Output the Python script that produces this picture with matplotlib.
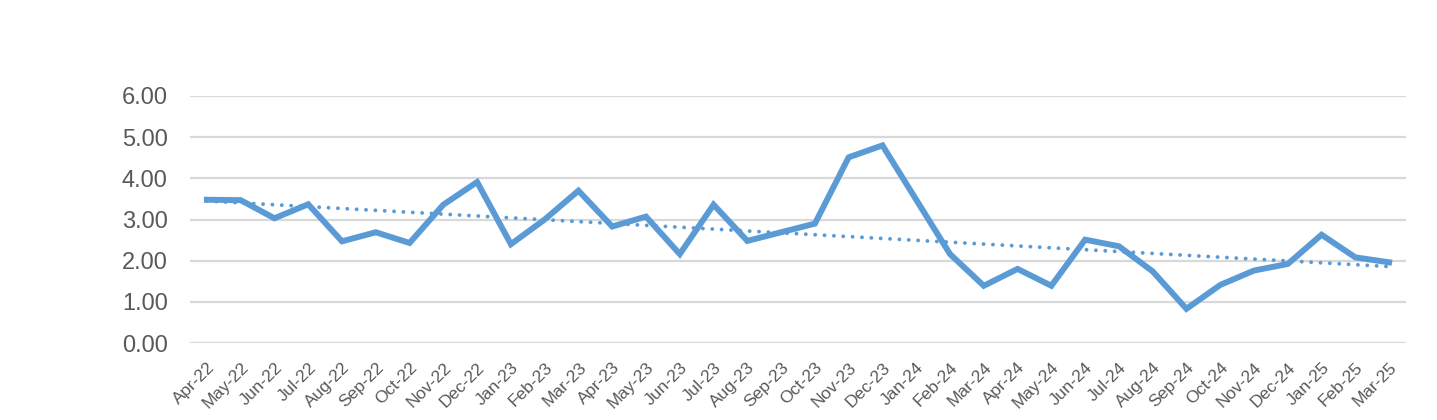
import numpy as np
import matplotlib.pyplot as plt

# --- DADOS ---
meses = ['Apr-22', 'May-22', 'Jun-22', 'Jul-22', 'Aug-22', 'Sep-22', 'Oct-22', 'Nov-22',
         'Dec-22', 'Jan-23', 'Feb-23', 'Mar-23', 'Apr-23', 'May-23', 'Jun-23', 'Jul-23',
         'Aug-23', 'Sep-23', 'Oct-23', 'Nov-23', 'Dec-23', 'Jan-24', 'Feb-24', 'Mar-24',
         'Apr-24', 'May-24', 'Jun-24', 'Jul-24', 'Aug-24', 'Sep-24', 'Oct-24', 'Nov-24',
         'Dec-24', 'Jan-25', 'Feb-25', 'Mar-25']
valores = [3.48, 3.47, 3.03, 3.37, 2.47, 2.69, 2.43, 3.36,
           3.91, 2.40, 3.00, 3.70, 2.83, 3.07, 2.16, 3.36,
           2.48, 2.69, 2.90, 4.51, 4.80, 3.48, 2.16, 1.39,
           1.80, 1.39, 2.51, 2.35, 1.74, 0.83, 1.41, 1.76,
           1.92, 2.63, 2.08, 1.96]
y_ticks = [0, 1, 2, 3, 4, 5, 6]

COR_LINHA = '#5B9BD5'
COR_TEXTO = '#595959'
COR_GRADE = '#D9D9D9'

plt.rcParams['font.family'] = ['Liberation Sans', 'DejaVu Sans']

fig = plt.figure(figsize=(14.37, 4.2), dpi=100)
ax = fig.add_axes([190 / 1437, 77 / 420, 1216 / 1437, 247 / 420])

x = np.arange(len(meses))
ax.plot(x, valores, color=COR_LINHA, linewidth=4.3, solid_joinstyle='miter', zorder=3)

# linha de tendência linear
coef = np.polyfit(x, valores, 1)
ax.plot(x, np.polyval(coef, x), color=COR_LINHA, linewidth=2.8,
        linestyle=(0, (0.01, 2.4)), dash_capstyle='round', zorder=2)

ax.set_xlim(-0.5, len(meses) - 0.5)
ax.set_ylim(0, 6)
ax.set_yticks(y_ticks)
ax.set_yticklabels([f'{v:.2f}' for v in y_ticks], fontsize=17, color=COR_TEXTO)
ax.set_xticks(x)
ax.set_xticklabels(meses, fontsize=12.5, color=COR_TEXTO, rotation=45,
                   ha='right', rotation_mode='anchor')

ax.grid(True, axis='y', color=COR_GRADE, linewidth=1.6, zorder=0)
ax.set_axisbelow(True)
for s in ax.spines.values():
    s.set_visible(False)
ax.tick_params(axis='both', length=0)
ax.tick_params(axis='y', pad=16)
ax.tick_params(axis='x', pad=12)

fig.savefig('out.png', dpi=100)
